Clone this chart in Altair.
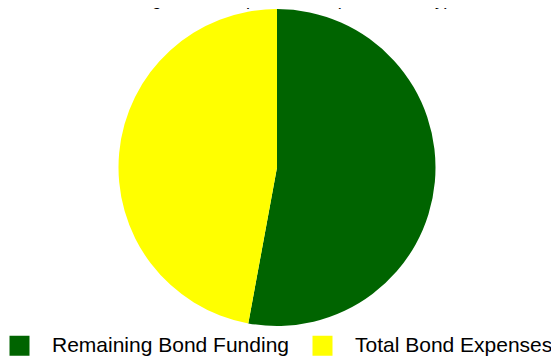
import altair as alt
import pandas as pd

title_text = "Bond Funding versus Expenditures (Cumulatively)"
categories = ["Remaining Bond Funding", "Total Bond Expenses"]
values = [52.9, 47.1]
colors = ["#006400", "#FFFF00"]

df = pd.DataFrame({"category": categories, "value": values})
tdf = pd.DataFrame({"t": [title_text]})

pie = alt.Chart(df).mark_arc(radius=158.5).encode(
    theta=alt.Theta("value:Q", stack=True),
    color=alt.Color(
        "category:N",
        scale=alt.Scale(domain=categories, range=colors),
        legend=alt.Legend(
            title=None,
            orient="none",
            legendX=1,
            legendY=327,
            direction="horizontal",
            columns=2,
            symbolType="square",
            symbolSize=400,
            symbolStrokeWidth=0,
            labelFontSize=21,
            labelFont="Liberation Sans",
            labelColor="black",
            labelOffset=22,
            columnPadding=23,
            padding=0,
            labelLimit=400,
        ),
    ),
    x=alt.value(269),
    y=alt.value(159.5),
)

title = alt.Chart(tdf).mark_text(
    align="right", baseline="alphabetic", fontSize=18, font="Liberation Sans", color="black"
).encode(text="t:N", x=alt.value(442), y=alt.value(-3))

chart = alt.layer(pie, title).properties(
    width=543, height=349, padding=0, autosize=alt.AutoSizeParams(type="none")
).configure_view(stroke=None)

chart.save("out.html", embed_options={"renderer": "svg", "actions": False})
